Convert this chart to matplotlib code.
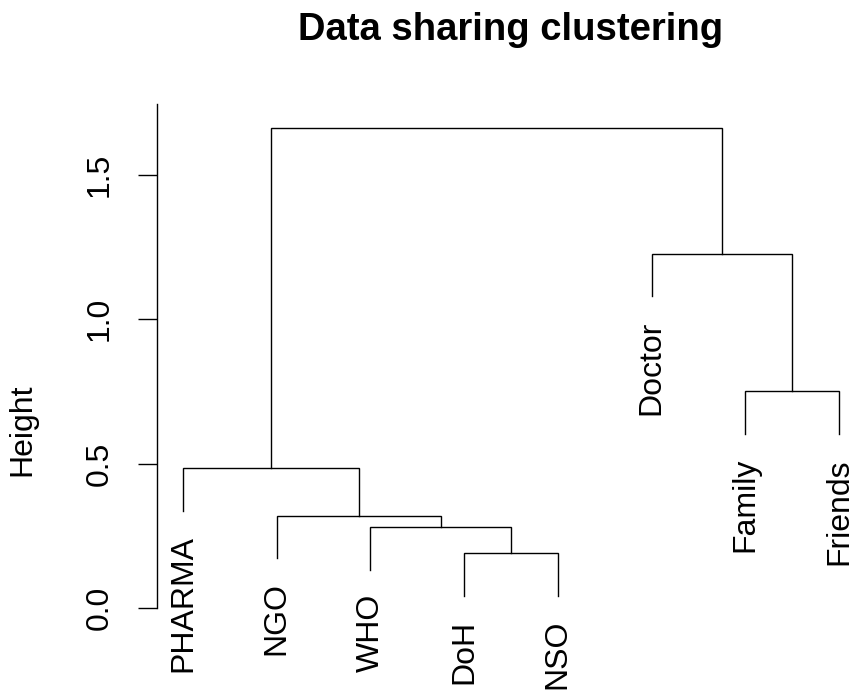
import numpy as np
import matplotlib
matplotlib.use("Agg")
import matplotlib.pyplot as plt

plt.rcParams['font.family'] = ['Liberation Sans', 'DejaVu Sans']

# leaf labels in plotting order
labels = ["PHARMA", "NGO", "WHO", "DoH", "NSO", "Doctor", "Family", "Friends"]

# hclust style merge table: negative = leaf (1-based), positive = earlier merge
merge_left = [-4, -3, -2, -1, -7, -6, 4]
merge_right = [-5, 1, 2, 3, -8, 5, 6]
merge_height = [0.19, 0.28, 0.32, 0.483, 0.75, 1.225, 1.66]

yticks = [0.0, 0.5, 1.0, 1.5]

W, H = 849, 691
fig = plt.figure(figsize=(W / 100, H / 100), dpi=100)
# axes spans from the y axis line to the right edge of the figure
ax = fig.add_axes([157 / W, 0, (W - 157) / W, 1])

px_x = 93.7   # pixels per leaf
px_y = 289.0  # pixels per unit height
ax.set_xlim(1 - 26 / px_x, 1 + (W - 183) / px_x)
ax.set_ylim((608 - H) / px_y, 608 / px_y)

hang = 0.1 * (max(merge_height) - min(merge_height))

leaf_x = np.arange(1, len(labels) + 1)
node_x = {}
lw = 1.0

def child_pos(c, h):
    if c < 0:
        return leaf_x[-c - 1], h - hang
    return node_x[c], merge_height[c - 1]

for i, (l, r, h) in enumerate(zip(merge_left, merge_right, merge_height), start=1):
    xl, yl = child_pos(l, h)
    xr, yr = child_pos(r, h)
    ax.plot([xl, xl, xr, xr], [yl, h, h, yr], color='black', lw=lw,
            solid_joinstyle='miter', clip_on=False)
    node_x[i] = (xl + xr) / 2

# leaf labels, hanging below the end of each leaf line
for lo, hi, h in zip(merge_left, merge_right, merge_height):
    for c in (lo, hi):
        if c < 0:
            ax.annotate(labels[-c - 1], xy=(leaf_x[-c - 1], h - hang),
                        xytext=(0, -17.5), textcoords='offset points',
                        rotation=90, ha='center', va='top', fontsize=23)

for s in ['top', 'right', 'bottom']:
    ax.spines[s].set_visible(False)
ax.spines['left'].set_bounds(0, 1.745)
ax.spines['left'].set_linewidth(lw)
ax.set_xticks([])
ax.set_yticks(yticks)
ax.set_yticklabels([f"{t:.1f}" for t in yticks], rotation=90, va='center',
                   fontsize=23)
ax.tick_params(axis='y', length=13.7, width=lw, pad=17)

fig.text(22 / W, 1 - 430 / H, "Height", rotation=90, ha='center', va='center',
         fontsize=23)
fig.text(511 / W, 1 - 40 / H, "Data sharing clustering", ha='center',
         va='baseline', fontsize=27.5, fontweight='bold')

fig.savefig("out.png", dpi=100)
